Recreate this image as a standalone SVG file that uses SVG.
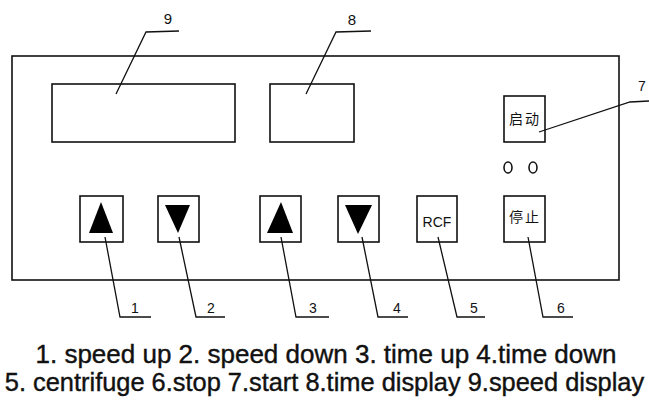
<svg xmlns="http://www.w3.org/2000/svg" width="649" height="400" viewBox="0 0 649 400">
<style>
.box{fill:none;stroke:#111;stroke-width:1.6}
.lead{fill:none;stroke:#111;stroke-width:1.3}
.tri{fill:#000}
.num{font-family:"Liberation Sans",Arial,sans-serif;font-size:14px;fill:#111;text-anchor:middle}
.big{font-size:15px}
.cjk{font-family:"Noto Sans CJK SC","Liberation Sans",sans-serif;font-size:14px;fill:#111;text-anchor:middle}
.lbl{font-family:"Liberation Sans",Arial,sans-serif;font-size:14px;fill:#111;text-anchor:middle}
.legend{font-family:"Liberation Sans",Arial,sans-serif;font-size:26px;fill:#111;stroke:#111;stroke-width:0.4;text-anchor:middle}
.legend2{font-size:25.4px}
</style>
<rect width="649" height="400" fill="#fff"/>
<g id="panel"><rect class="box" x="12" y="56" width="607" height="224"/></g>
<g id="speed-display"><rect class="box" x="52" y="84" width="183" height="58"/></g>
<g id="time-display"><rect class="box" x="270" y="84" width="84" height="58"/></g>
<g id="start-button"><rect class="box" x="504" y="96" width="41" height="46"/><text class="cjk" x="525" y="124" letter-spacing="2">启动</text></g>
<g id="indicators"><ellipse class="box" cx="508" cy="167.5" rx="4" ry="5.5"/><ellipse class="box" cx="533" cy="167.5" rx="4" ry="5.5"/></g>
<g id="btn1"><rect class="box" x="80" y="196" width="43" height="46"/><polygon class="tri" points="101,202 113,233 89,233"/></g>
<g id="btn2"><rect class="box" x="158" y="196" width="41" height="46"/><polygon class="tri" points="165,205 190,205 178,233"/></g>
<g id="btn3"><rect class="box" x="260" y="196" width="41" height="46"/><polygon class="tri" points="281,202 293,233 267,233"/></g>
<g id="btn4"><rect class="box" x="338" y="196" width="41" height="46"/><polygon class="tri" points="345,205 372,205 358,234"/></g>
<g id="btn5"><rect class="box" x="417" y="196" width="40" height="46"/><text class="lbl" x="437" y="227">RCF</text></g>
<g id="btn6"><rect class="box" x="504" y="196" width="41" height="46"/><text class="cjk" x="525" y="222" letter-spacing="2">停止</text></g>
<g id="connectors">
<polyline class="lead" points="116,94 146,32 179,31"/>
<polyline class="lead" points="306,94 336,32 371,31"/>
<polyline class="lead" points="539,132 630,102 649,101"/>
<polyline class="lead" points="105,237 120,317 151,317"/>
<polyline class="lead" points="179,237 196,317 225,317"/>
<polyline class="lead" points="281,237 296,317 329,317"/>
<polyline class="lead" points="362,237 378,317 408,317"/>
<polyline class="lead" points="438,237 457,317 485,317"/>
<polyline class="lead" points="528,237 543,317 573,317"/>
</g>
<g id="labels">
<text class="num big" x="168" y="24">9</text>
<text class="num big" x="352" y="25">8</text>
<text class="num" x="642" y="91">7</text>
<text class="num" x="135" y="313">1</text>
<text class="num" x="211" y="313">2</text>
<text class="num" x="313" y="313">3</text>
<text class="num" x="397" y="313">4</text>
<text class="num" x="474" y="313">5</text>
<text class="num" x="561" y="313">6</text>
</g>
<g id="legend">
<text class="legend" x="326" y="363">1. speed up 2. speed down 3. time up 4.time down</text>
<text class="legend legend2" x="324.5" y="391">5. centrifuge 6.stop 7.start 8.time display 9.speed display</text>
</g>
</svg>
